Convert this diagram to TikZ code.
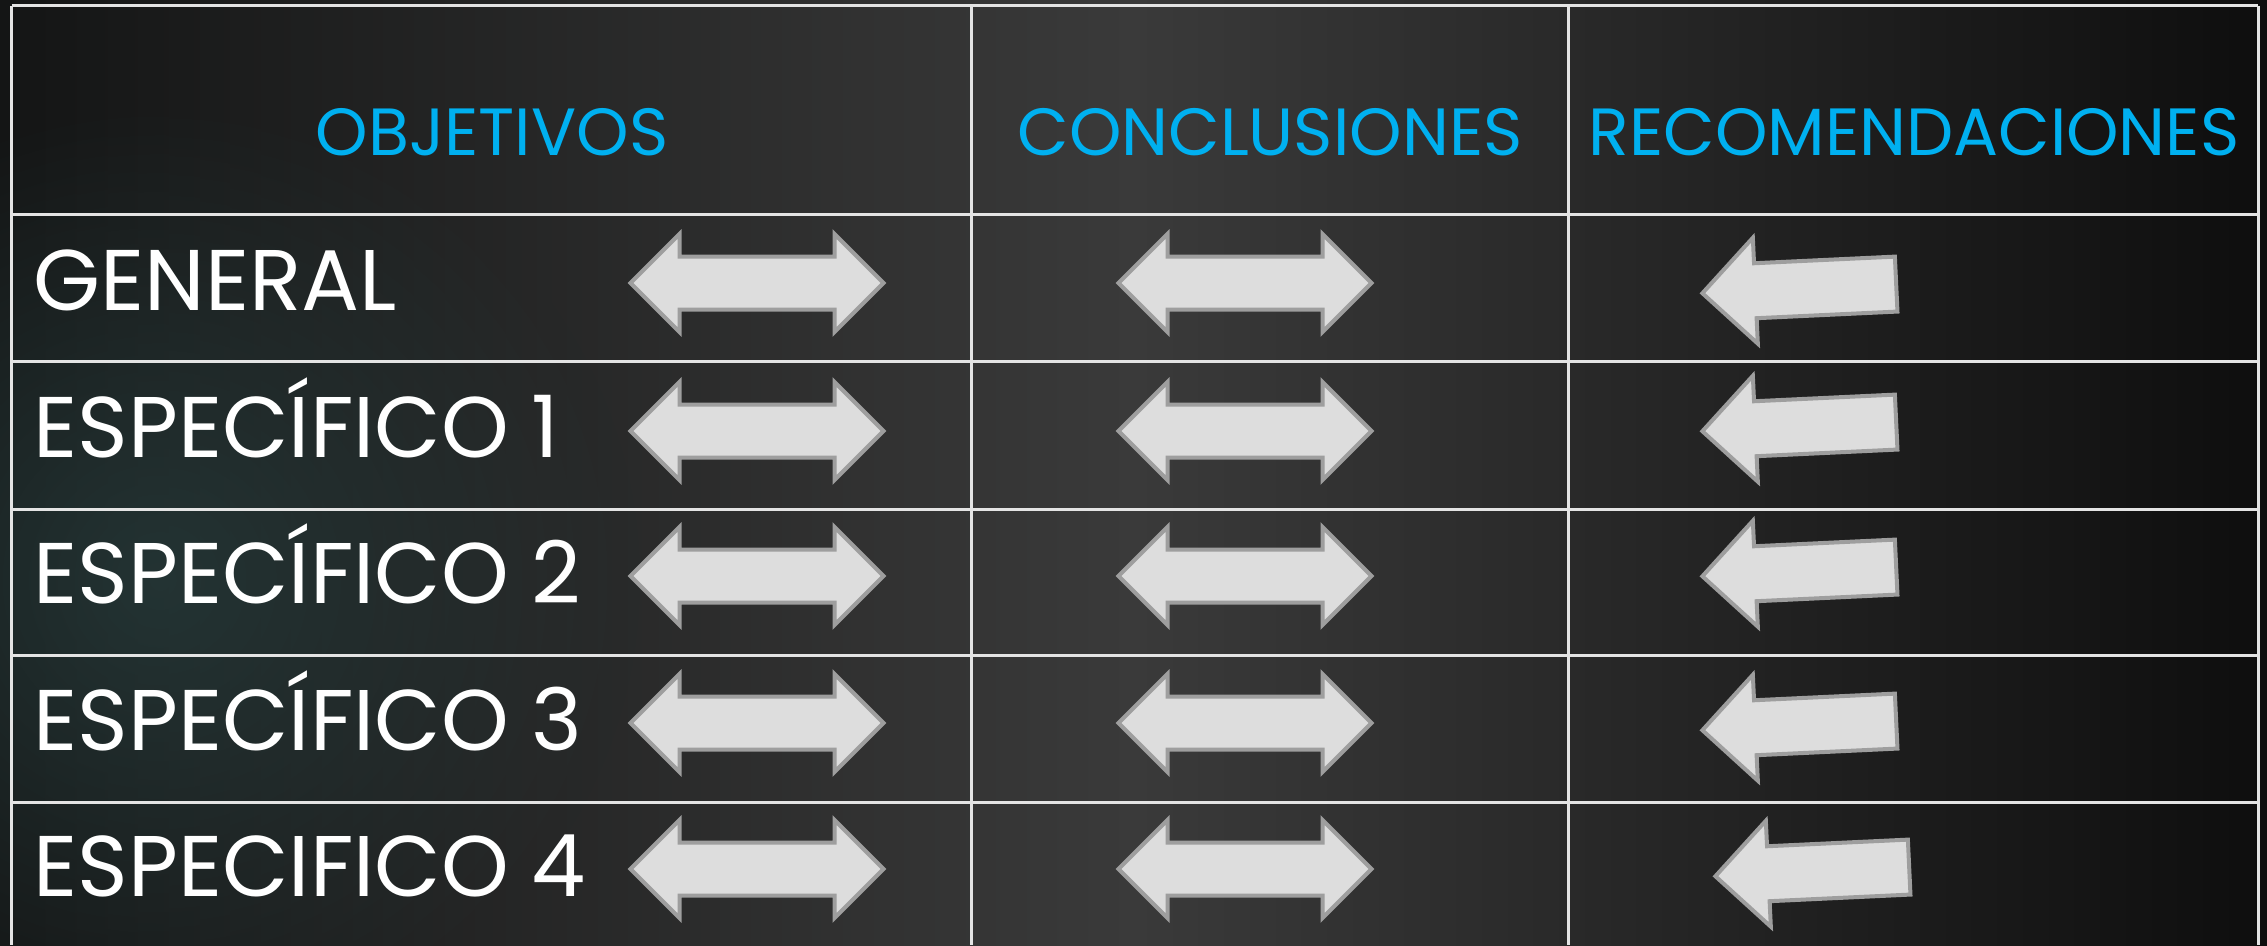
\documentclass[tikz,border=0pt]{standalone}
\usepackage{fontspec}
\setmainfont{Poppins}
\usetikzlibrary{shapes.arrows,fadings}
\definecolor{hdcyan}{RGB}{0,176,240}
\definecolor{arrfill}{RGB}{221,221,221}
\definecolor{arrline}{RGB}{158,158,158}
\definecolor{gridline}{RGB}{228,228,228}
\definecolor{bgdark}{RGB}{20,21,21}
\definecolor{bgmid}{RGB}{58,58,58}
\definecolor{bgright}{RGB}{14,14,14}
\definecolor{bgteal}{RGB}{38,58,58}
\tikzfading[name=glowfade,inner color=transparent!0,outer color=transparent!100]
\begin{document}
\begin{tikzpicture}[x=0.1mm,y=-0.1mm]
	\tikzstyle{every node}+=[inner sep=0pt]
	\tikzstyle{hd}=[text=hdcyan,font=\fontsize{19pt}{23pt}\selectfont,anchor=base]
	\tikzstyle{lbl}=[text=white,font=\fontsize{24.5pt}{29pt}\selectfont,anchor=base west]
	\tikzstyle{dblarr}=[double arrow,draw=arrline,fill=arrfill,line width=0.4mm,minimum height=25.3mm,inner ysep=2.45mm,double arrow head extend=2.25mm]
	\tikzstyle{lftarr}=[single arrow,draw=arrline,fill=arrfill,line width=0.4mm,minimum height=19.4mm,inner ysep=2.55mm,single arrow head extend=2.55mm,shape border rotate=180,rotate=2.7]
	\useasboundingbox (0,0) rectangle (2267,945);
	\shade [left color=bgdark,right color=bgright,middle color=bgmid] (0,0) rectangle (2267,945);
	\fill [bgteal,path fading=glowfade,opacity=0.8] (160,580) circle (480);
	\draw [gridline,line width=0.3mm] (11.5,5.8) -- (2258,5.8);
	\draw [gridline,line width=0.3mm] (11.5,214) -- (2258,214);
	\draw [gridline,line width=0.3mm] (11.5,361.5) -- (2258,361.5);
	\draw [gridline,line width=0.3mm] (11.5,509) -- (2258,509);
	\draw [gridline,line width=0.3mm] (11.5,655) -- (2258,655);
	\draw [gridline,line width=0.3mm] (11.5,802.4) -- (2258,802.4);
	\draw [gridline,line width=0.3mm] (11.5,5.8) -- (11.5,945);
	\draw [gridline,line width=0.3mm] (971.6,5.8) -- (971.6,945);
	\draw [gridline,line width=0.3mm] (1568.7,5.8) -- (1568.7,945);
	\draw [gridline,line width=0.3mm] (2258,5.8) -- (2258,945);
	\node [hd] (hdObj) at (492,155) {OBJETIVOS};
	\node [hd] (hdCon) at (1270,155) {CONCLUSIONES};
	\node [hd] (hdRec) at (1914,155) {RECOMENDACIONES};
	\node [lbl] (lblGen) at (33,310) {GENERAL};
	\node [lbl] (lblEsp1) at (33,457) {ESPECÍFICO 1};
	\node [lbl] (lblEsp2) at (33,603) {ESPECÍFICO 2};
	\node [lbl] (lblEsp3) at (33,750) {ESPECÍFICO 3};
	\node [lbl] (lblEsp4) at (33,896) {ESPECIFICO 4};
	\node [dblarr] (arrObj1) at (757,283) {};
	\node [dblarr] (arrObj2) at (757,431) {};
	\node [dblarr] (arrObj3) at (757,576) {};
	\node [dblarr] (arrObj4) at (757,723) {};
	\node [dblarr] (arrObj5) at (757,869) {};
	\node [dblarr] (arrCon1) at (1245,283) {};
	\node [dblarr] (arrCon2) at (1245,431) {};
	\node [dblarr] (arrCon3) at (1245,576) {};
	\node [dblarr] (arrCon4) at (1245,723) {};
	\node [dblarr] (arrCon5) at (1245,869) {};
	\node [lftarr] (arrRec1) at (1813,288) {};
	\node [lftarr] (arrRec2) at (1813,426) {};
	\node [lftarr] (arrRec3) at (1813,571) {};
	\node [lftarr] (arrRec4) at (1813,725) {};
	\node [lftarr] (arrRec5) at (1826,871) {};
\end{tikzpicture}
\end{document}
